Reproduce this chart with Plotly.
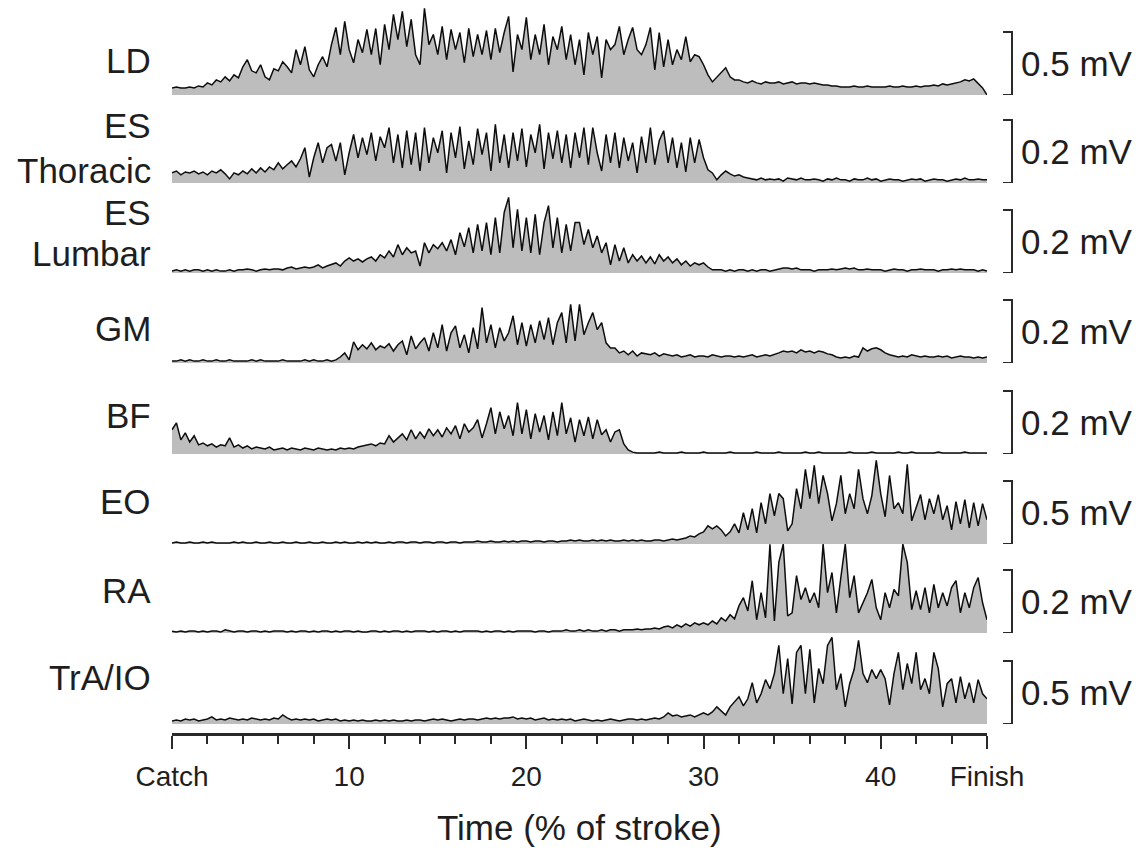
import numpy as np
import plotly.graph_objects as go

# ---------------- data (amplitudes in microvolts, sampled every 0.25 % of stroke) ----------------
time_pct = np.linspace(0, 46, 185)

LD_uV = [
    56, 64, 56, 56, 64, 56, 72, 64, 96, 80, 120, 104, 144, 112, 160, 136,
    224, 280, 192, 176, 240, 144, 120, 208, 192, 264, 224, 176, 360, 240, 384, 200,
    144, 240, 304, 224, 400, 536, 320, 584, 360, 256, 440, 336, 520, 320, 528, 240,
    560, 360, 640, 440, 664, 384, 600, 320, 240, 688, 400, 480, 320, 544, 280, 520,
    360, 496, 256, 528, 304, 480, 320, 512, 280, 528, 336, 496, 624, 184, 480, 360,
    616, 280, 480, 320, 560, 240, 464, 360, 544, 280, 480, 240, 440, 160, 496, 320,
    464, 136, 440, 360, 400, 544, 320, 440, 536, 360, 320, 400, 536, 200, 496, 224,
    440, 240, 360, 280, 464, 264, 320, 304, 240, 160, 104, 144, 176, 216, 144, 120,
    120, 104, 96, 112, 96, 88, 104, 96, 96, 104, 88, 96, 104, 88, 96, 96,
    88, 96, 88, 80, 80, 72, 72, 64, 64, 64, 72, 64, 64, 72, 64, 64,
    64, 64, 72, 64, 64, 72, 64, 64, 72, 64, 72, 72, 80, 72, 88, 80,
    88, 96, 104, 120, 112, 128, 96, 56, 0,
]

ES_thoracic_uV = [
    32, 38, 26, 35, 32, 38, 29, 35, 26, 38, 32, 42, 29, 13, 32, 26,
    38, 29, 45, 32, 48, 35, 51, 42, 64, 45, 58, 70, 51, 77, 112, 19,
    80, 128, 64, 112, 122, 70, 128, 26, 96, 154, 80, 144, 90, 160, 70, 147,
    112, 176, 64, 154, 48, 166, 58, 160, 38, 176, 64, 144, 96, 166, 32, 160,
    80, 179, 45, 134, 58, 173, 90, 160, 38, 186, 64, 154, 48, 160, 70, 173,
    51, 154, 96, 186, 45, 160, 77, 166, 64, 154, 48, 160, 80, 176, 58, 176,
    96, 38, 154, 64, 160, 48, 144, 70, 128, 32, 147, 64, 176, 58, 134, 166,
    64, 144, 48, 128, 35, 144, 64, 138, 80, 42, 32, 10, 26, 38, 29, 22,
    26, 19, 16, 13, 10, 16, 10, 13, 10, 13, 6, 16, 13, 10, 16, 10,
    10, 13, 10, 6, 13, 10, 16, 10, 10, 6, 13, 10, 10, 16, 10, 13,
    6, 10, 13, 10, 10, 6, 10, 13, 10, 13, 6, 10, 13, 10, 10, 6,
    10, 13, 10, 16, 10, 10, 13, 10, 10,
]

ES_lumbar_uV = [
    6, 10, 6, 10, 6, 10, 10, 6, 10, 6, 10, 6, 6, 10, 6, 10,
    10, 13, 10, 6, 10, 13, 10, 13, 13, 10, 16, 19, 13, 16, 19, 16,
    19, 26, 16, 22, 26, 32, 22, 38, 48, 38, 45, 35, 45, 51, 38, 58,
    48, 70, 51, 90, 58, 80, 64, 70, 22, 96, 64, 90, 77, 96, 70, 106,
    58, 128, 83, 144, 64, 154, 70, 160, 58, 176, 64, 192, 240, 80, 202, 70,
    176, 64, 186, 58, 160, 214, 80, 176, 64, 154, 70, 160, 160, 90, 138, 80,
    118, 64, 96, 26, 90, 38, 80, 32, 58, 38, 54, 32, 51, 29, 58, 38,
    51, 32, 45, 26, 38, 22, 32, 26, 32, 19, 10, 10, 10, 6, 10, 6,
    10, 10, 6, 10, 6, 10, 10, 6, 10, 13, 16, 16, 13, 16, 10, 10,
    10, 6, 10, 10, 10, 13, 10, 13, 16, 13, 16, 10, 10, 13, 10, 10,
    10, 6, 10, 13, 10, 10, 6, 10, 10, 13, 10, 10, 10, 6, 10, 10,
    13, 10, 13, 10, 10, 10, 6, 10, 6,
]

GM_uV = [
    6, 6, 10, 6, 10, 6, 6, 10, 6, 6, 10, 6, 6, 10, 6, 6,
    6, 6, 10, 6, 10, 6, 6, 6, 6, 10, 6, 6, 6, 6, 10, 6,
    10, 6, 6, 10, 6, 10, 19, 32, 10, 67, 42, 58, 45, 64, 42, 54,
    48, 61, 38, 58, 70, 26, 86, 45, 64, 80, 38, 96, 48, 122, 38, 96,
    118, 48, 90, 32, 112, 45, 176, 64, 122, 48, 112, 70, 96, 150, 58, 128,
    54, 122, 64, 134, 74, 144, 58, 128, 160, 64, 186, 70, 186, 90, 128, 160,
    106, 128, 64, 48, 48, 32, 38, 26, 38, 22, 32, 29, 26, 32, 22, 29,
    26, 22, 26, 19, 22, 26, 19, 22, 22, 19, 26, 22, 19, 22, 22, 19,
    22, 19, 22, 26, 19, 22, 26, 22, 26, 32, 38, 35, 38, 32, 42, 35,
    38, 32, 38, 35, 29, 26, 19, 16, 19, 16, 22, 19, 48, 38, 45, 48,
    42, 32, 26, 22, 19, 22, 19, 26, 22, 19, 22, 19, 19, 22, 19, 22,
    16, 19, 22, 19, 19, 16, 19, 16, 19,
]

BF_uV = [
    77, 99, 45, 67, 38, 58, 29, 35, 26, 32, 22, 29, 26, 51, 22, 29,
    19, 26, 16, 22, 19, 16, 22, 13, 16, 19, 13, 19, 16, 13, 19, 16,
    13, 19, 16, 13, 16, 13, 19, 16, 19, 16, 22, 26, 29, 32, 26, 35,
    32, 58, 38, 51, 64, 45, 77, 48, 70, 51, 80, 58, 77, 54, 83, 64,
    90, 48, 96, 70, 83, 109, 51, 96, 147, 64, 134, 80, 122, 58, 163, 64,
    141, 48, 128, 70, 122, 45, 134, 58, 163, 64, 115, 38, 109, 58, 118, 48,
    109, 61, 77, 38, 70, 77, 32, 13, 6, 3, 3, 3, 3, 3, 6, 3,
    3, 3, 3, 6, 3, 3, 3, 3, 6, 3, 3, 3, 3, 3, 6, 3,
    3, 3, 3, 3, 6, 3, 3, 3, 3, 6, 3, 3, 3, 3, 3, 6,
    3, 3, 6, 3, 3, 3, 3, 3, 3, 6, 3, 3, 3, 3, 6, 3,
    3, 3, 3, 3, 6, 3, 3, 6, 3, 3, 3, 3, 3, 6, 3, 3,
    3, 3, 3, 6, 3, 3, 3, 3, 3,
]

EO_uV = [
    8, 16, 8, 8, 16, 8, 8, 16, 8, 16, 8, 8, 8, 8, 16, 8,
    16, 8, 8, 16, 8, 8, 16, 8, 8, 16, 8, 8, 16, 8, 8, 16,
    8, 8, 16, 8, 8, 16, 8, 16, 8, 8, 16, 8, 16, 8, 16, 8,
    8, 16, 8, 16, 16, 8, 16, 16, 8, 16, 16, 8, 16, 16, 8, 16,
    16, 8, 16, 16, 16, 24, 16, 16, 24, 16, 16, 24, 16, 24, 16, 24,
    24, 16, 24, 24, 16, 24, 24, 16, 24, 24, 32, 24, 32, 24, 24, 32,
    24, 32, 24, 32, 24, 24, 32, 24, 32, 24, 32, 24, 24, 32, 32, 24,
    32, 40, 32, 40, 48, 64, 56, 80, 96, 144, 120, 144, 112, 64, 96, 160,
    88, 248, 112, 280, 88, 328, 160, 400, 224, 400, 360, 104, 160, 440, 280, 592,
    360, 624, 320, 544, 400, 184, 320, 544, 240, 400, 280, 592, 360, 240, 384, 664,
    400, 216, 544, 280, 328, 240, 632, 184, 280, 392, 192, 360, 240, 392, 192, 304,
    112, 336, 160, 352, 128, 328, 144, 320, 192,
]

RA_uV = [
    6, 3, 6, 3, 6, 6, 3, 6, 3, 6, 6, 3, 10, 6, 3, 6,
    6, 3, 6, 6, 3, 6, 3, 6, 6, 6, 3, 6, 3, 6, 6, 3,
    6, 3, 6, 6, 3, 6, 3, 6, 6, 3, 6, 3, 3, 6, 6, 3,
    6, 3, 6, 6, 3, 6, 3, 6, 6, 6, 3, 6, 3, 6, 6, 3,
    6, 3, 6, 6, 6, 6, 3, 6, 3, 6, 6, 3, 6, 3, 6, 6,
    6, 6, 3, 6, 6, 3, 6, 6, 6, 10, 6, 6, 10, 6, 10, 6,
    6, 10, 6, 10, 10, 6, 10, 10, 10, 13, 10, 13, 13, 16, 13, 19,
    22, 16, 26, 19, 29, 22, 32, 26, 32, 26, 38, 29, 48, 38, 58, 45,
    86, 112, 70, 166, 42, 128, 48, 282, 38, 224, 282, 54, 64, 182, 106, 144,
    96, 128, 80, 282, 128, 192, 64, 176, 282, 112, 182, 64, 96, 128, 170, 80,
    42, 128, 80, 138, 118, 282, 224, 74, 134, 74, 144, 64, 154, 80, 128, 86,
    144, 166, 64, 128, 80, 144, 176, 96, 42,
]

TrA_IO_uV = [
    24, 32, 24, 40, 32, 40, 24, 32, 40, 56, 32, 40, 32, 48, 40, 32,
    40, 32, 48, 40, 32, 40, 32, 48, 40, 72, 48, 32, 40, 32, 40, 32,
    40, 24, 32, 40, 32, 40, 24, 32, 24, 32, 24, 32, 24, 24, 32, 24,
    32, 24, 32, 24, 24, 32, 24, 32, 32, 24, 32, 40, 32, 40, 32, 24,
    32, 40, 32, 40, 40, 32, 40, 48, 40, 48, 40, 48, 48, 56, 40, 48,
    40, 48, 32, 40, 48, 32, 40, 32, 40, 32, 40, 24, 32, 40, 32, 24,
    32, 24, 32, 40, 32, 24, 32, 40, 40, 32, 40, 32, 40, 48, 40, 56,
    88, 64, 72, 56, 64, 72, 56, 72, 88, 72, 96, 136, 104, 72, 136, 176,
    216, 144, 200, 328, 168, 240, 352, 280, 400, 624, 240, 520, 160, 568, 624, 240,
    592, 168, 440, 320, 624, 688, 272, 400, 136, 320, 432, 664, 400, 328, 432, 360,
    432, 360, 152, 400, 568, 272, 480, 320, 568, 272, 360, 240, 568, 440, 136, 320,
    360, 168, 376, 200, 328, 168, 352, 240, 200,
]

muscle_labels = [["LD"], ["ES", "Thoracic"], ["ES", "Lumbar"], ["GM"], ["BF"], ["EO"], ["RA"], ["TrA/IO"]]
scale_mV = [0.5, 0.2, 0.2, 0.2, 0.2, 0.5, 0.2, 0.5]
series = [LD_uV, ES_thoracic_uV, ES_lumbar_uV, GM_uV, BF_uV, EO_uV, RA_uV, TrA_IO_uV]

tick_vals = [0, 10, 20, 30, 40, 46]
tick_text = ["Catch", "10", "20", "30", "40", "Finish"]
x_title = "Time (% of stroke)"

for s in series:
    assert len(s) == len(time_pct), len(s)

# ---------------- layout constants (pixels) ----------------
W, H = 1139, 852
X0, X1 = 172, 987
baselines = [95, 183, 273, 363, 454, 544, 633, 724]
label_y = [[60], [125, 170], [212, 253], [328], [415], [502], [590], [677]]
ROW_H = 95
BAR_PX = 63
AXIS_Y = 734
FONT = "Liberation Sans, Arial, Helvetica, sans-serif"
TXT = "#1e1e1e"

fig = go.Figure()
layout = {}
shapes = []
annotations = []

for k, (vals, s, labels) in enumerate(zip(series, scale_mV, muscle_labels)):
    yname = "y" if k == 0 else f"y{k + 1}"
    ykey = "yaxis" if k == 0 else f"yaxis{k + 1}"
    b = baselines[k]
    fig.add_trace(go.Scatter(
        x=time_pct, y=vals, mode="lines",
        line=dict(color="#0d0d0d", width=1.5),
        fill="tozeroy", fillcolor="#bdbdbd",
        xaxis="x", yaxis=yname, showlegend=False, hoverinfo="skip",
    ))
    layout[ykey] = dict(
        domain=[1 - b / H, 1 - (b - ROW_H) / H],
        range=[0, ROW_H / BAR_PX * s * 1000],
        visible=False, anchor="x", fixedrange=True, automargin=False,
    )
    bar = s * 1000
    xa, xb = 1003 / W, 1012 / W
    shapes.append(dict(
        type="path", xref="paper", yref=yname,
        path=f"M {xa},0 L {xb},0 L {xb},{bar} L {xa},{bar}",
        line=dict(color="#2a2a2a", width=2),
    ))
    annotations.append(dict(
        x=1019 / W, y=bar / 2, xref="paper", yref=yname,
        text=f"{s} mV", showarrow=False, xanchor="left", yanchor="middle",
        font=dict(size=35, color=TXT, family=FONT),
    ))
    for txt, ly in zip(labels, label_y[k]):
        annotations.append(dict(
            x=153 / W, y=1 - ly / H, xref="paper", yref="paper",
            text=txt, showarrow=False, xanchor="right", yanchor="middle",
            font=dict(size=35, color=TXT, family=FONT),
        ))

annotations.append(dict(
    x=(X0 + X1) / 2 / W, y=1 - 827 / H, xref="paper", yref="paper",
    text=x_title, showarrow=False, xanchor="center", yanchor="middle",
    font=dict(size=35, color=TXT, family=FONT),
))

minor_vals = [v for v in range(2, 46, 2) if v % 10 != 0]

fig.update_layout(
    template="none",
    width=W, height=H,
    margin=dict(l=0, r=0, t=0, b=0, pad=0, autoexpand=False),
    paper_bgcolor="white", plot_bgcolor="rgba(0,0,0,0)",
    xaxis=dict(
        domain=[X0 / W, X1 / W], range=[0, 46],
        anchor="free", position=1 - AXIS_Y / H, automargin=False,
        showline=True, linewidth=2.5, linecolor="#2a2a2a",
        ticks="outside", ticklen=13, tickwidth=2, tickcolor="#2a2a2a",
        tickvals=tick_vals, ticktext=tick_text,
        tickfont=dict(size=28, color=TXT, family=FONT),
        ticklabelstandoff=4,
        minor=dict(tickvals=minor_vals, ticks="outside", ticklen=8, tickwidth=2, tickcolor="#2a2a2a"),
        showgrid=False, zeroline=False, fixedrange=True,
    ),
    shapes=shapes,
    annotations=annotations,
    **layout,
)

fig.write_html(
    "out.html",
    config={"displayModeBar": False},
    post_script="document.body.style.margin='0px';",
)
